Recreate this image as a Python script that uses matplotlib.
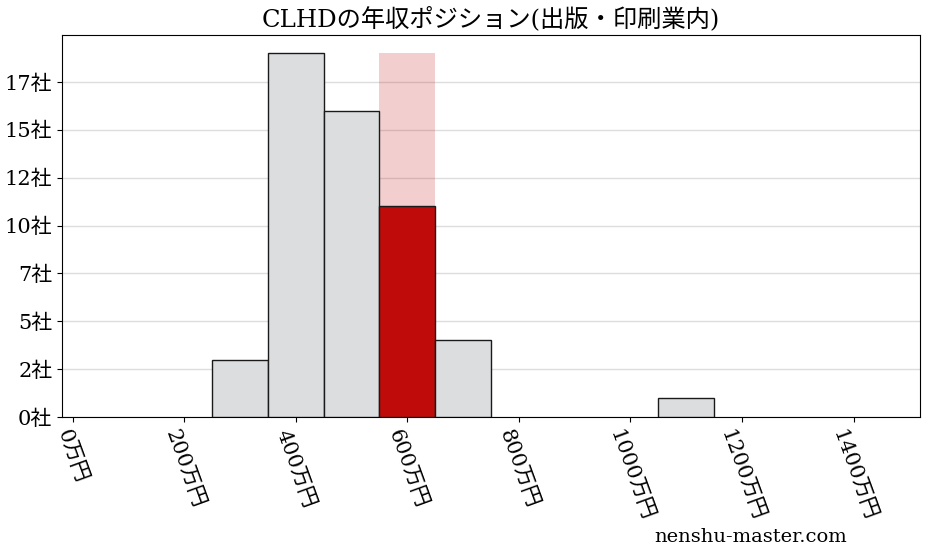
import matplotlib
matplotlib.use("Agg")
import matplotlib.pyplot as plt
from matplotlib.ticker import FixedLocator, FuncFormatter

# salary bins (万円) and number of companies in each
bin_centers = [300, 400, 500, 600, 700, 1100]
counts = [3, 19, 16, 11, 4, 1]
bin_width = 100
highlight_center = 600  # CLHD's bin
x_ticks = [0, 200, 400, 600, 800, 1000, 1200, 1400]
y_ticks = [0, 2.5, 5, 7.5, 10, 12.5, 15, 17.5]

title = "CLHDの年収ポジション(出版・印刷業内)"
watermark = "nenshu-master.com"

plt.rcParams['font.family'] = ['DejaVu Serif', 'Noto Sans CJK JP']

fig = plt.figure(figsize=(9.28, 5.57), dpi=100)
ax = fig.add_axes([62 / 928, 1 - 417 / 557, (920 - 62) / 928, (417 - 35) / 557])

red = "#c00b0b"
grey = "#dcdddf"

# pink band behind the highlighted bin, up to the tallest bar
ax.bar(highlight_center, max(counts), width=bin_width, color=red, alpha=0.2,
       linewidth=0, zorder=2)

for c, n in zip(bin_centers, counts):
    col = red if c == highlight_center else grey
    ax.bar(c, n, width=bin_width, color=col, edgecolor="#1a1a1a",
           linewidth=1, zorder=3)

ax.set_axisbelow(True)
ax.yaxis.grid(True, color="#dddddd", linewidth=1)
ax.set_xlim(-19, 1519)
ax.set_ylim(0, max(counts) * 1.05)

ax.xaxis.set_major_locator(FixedLocator(x_ticks))
ax.xaxis.set_major_formatter(FuncFormatter(lambda v, p: f"{int(v)}万円"))
ax.yaxis.set_major_locator(FixedLocator(y_ticks))
ax.yaxis.set_major_formatter(FuncFormatter(lambda v, p: f"{int(v)}社"))
plt.setp(ax.get_xticklabels(), rotation=-70, ha="center", fontsize=15)
plt.setp(ax.get_yticklabels(), fontsize=15)

ax.set_title(title, fontsize=17.5, pad=6)
fig.text(751 / 928, 1 - 537 / 557, watermark, fontsize=14,
         ha="center", va="center")

fig.savefig("out.png", dpi=100)
